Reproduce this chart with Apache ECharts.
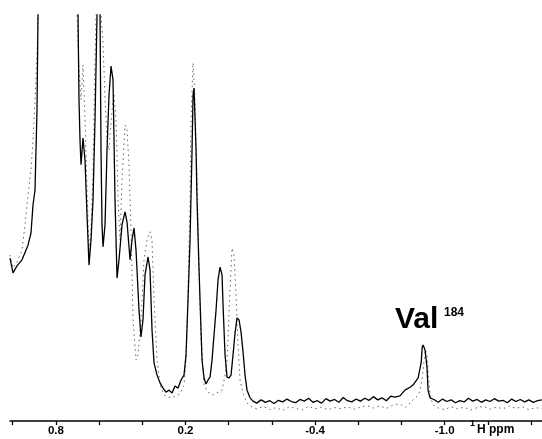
<!DOCTYPE html>
<html>
<head>
<meta charset="utf-8">
<script src="https://cdn.jsdelivr.net/npm/echarts@6/dist/echarts.min.js"></script>
<style>
  html, body { margin: 0; padding: 0; background: #fff; }
  #chart { width: 542px; height: 439px; }
</style>
</head>
<body>
<div id="chart"></div>
<script>
// chemical shift (ppm) and intensity (0..100 = top of frame)
var solidPpm = [1.0125, 0.9986, 0.9801, 0.9569, 0.9291, 0.9153, 0.9060, 0.8967, 0.8875, 0.8828,
  0.8736, 0.8273, 0.7810, 0.7347, 0.7069, 0.6976, 0.6930, 0.6884, 0.6837, 0.6745,
  0.6652, 0.6559, 0.6467, 0.6374, 0.6282, 0.6189, 0.6096, 0.6050, 0.5957, 0.5911,
  0.5865, 0.5819, 0.5726, 0.5633, 0.5541, 0.5448, 0.5356, 0.5263, 0.5170, 0.5078,
  0.4939, 0.4800, 0.4707, 0.4568, 0.4476, 0.4383, 0.4291, 0.4152, 0.4059, 0.3966,
  0.3874, 0.3735, 0.3642, 0.3550, 0.3457, 0.3318, 0.3179, 0.3040, 0.2901, 0.2762,
  0.2624, 0.2485, 0.2346, 0.2207, 0.2068, 0.1975, 0.1883, 0.1790, 0.1697, 0.1651,
  0.1605, 0.1512, 0.1466, 0.1373, 0.1281, 0.1234, 0.1142, 0.1049, 0.0957, 0.0864,
  0.0771, 0.0679, 0.0586, 0.0494, 0.0401, 0.0308, 0.0262, 0.0169, 0.0077, -0.0016,
  -0.0108, -0.0201, -0.0294, -0.0386, -0.0479, -0.0572, -0.0664, -0.0757, -0.0849, -0.0988,
  -0.1127, -0.13, -0.15, -0.17, -0.19, -0.21, -0.23, -0.25, -0.27, -0.29,
  -0.31, -0.33, -0.35, -0.37, -0.39, -0.41, -0.43, -0.45, -0.47, -0.49,
  -0.51, -0.53, -0.55, -0.57, -0.59, -0.61, -0.63, -0.65, -0.67, -0.69,
  -0.71, -0.73, -0.75, -0.77, -0.793, -0.816, -0.840, -0.854, -0.877, -0.891,
  -0.896, -0.900, -0.909, -0.918, -0.923, -0.932, -0.95, -0.97, -0.99, -1.01,
  -1.03, -1.05, -1.07, -1.09, -1.11, -1.13, -1.15, -1.17, -1.19, -1.21,
  -1.23, -1.25, -1.27, -1.29, -1.31, -1.33, -1.35, -1.37, -1.39, -1.41,
  -1.43, -1.45];
var solidInt = [40.1, 36.5, 38.2, 39.7, 43.3, 46.3, 53.2, 56.9, 76.6, 100,
  140, 180, 180, 160, 130, 100, 79.1, 69.2, 63.1, 69.7,
  64.3, 50.7, 38.4, 44.6, 54.4, 74.1, 100, 130, 100, 66.7,
  48.3, 42.9, 48.3, 66.7, 80.3, 87.4, 84.0, 54.4, 35.2, 39.7,
  48.3, 51.5, 49.0, 39.7, 44.6, 47.5, 42.1, 27.3, 20.7, 25.1,
  36.0, 40.4, 37.2, 22.4, 14.3, 11.3, 9.4, 8.1, 7.1, 7.6,
  6.9, 8.6, 8.1, 10.1, 11.3, 16.3, 29.8, 44.6, 66.7, 80.3,
  82.0, 66.7, 54.4, 37.2, 22.4, 15.0, 10.6, 9.1, 10.1, 10.8,
  15.0, 21.2, 27.3, 34.7, 37.9, 36.0, 28.6, 16.3, 10.8, 10.6,
  11.3, 16.3, 21.7, 25.4, 24.9, 21.9, 17.0, 11.3, 7.6, 5.7,
  4.9, 4.4, 5.2, 4.6, 5.0, 4.3, 5.1, 4.7, 5.4, 4.8,
  4.5, 5.3, 4.9, 5.6, 4.6, 5.0, 4.4, 5.5, 4.9, 5.3,
  4.6, 5.8, 5.0, 4.7, 5.4, 4.9, 5.6, 5.1, 6.0, 5.2,
  5.7, 5.0, 6.1, 5.9, 6.2, 7.6, 8.3, 8.9, 10.6, 14.3,
  18.2, 18.7, 17.5, 13.3, 7.6, 5.7, 5.3, 4.6, 5.4, 4.8,
  5.2, 4.5, 5.0, 4.7, 5.6, 4.9, 5.3, 4.6, 5.2, 4.8,
  5.5, 4.9, 5.1, 4.5, 5.4, 4.8, 5.3, 4.7, 5.2, 4.6,
  5.0, 5.2];

var dottedPpm = [1.0125, 0.9986, 0.9801, 0.9569, 0.9430, 0.9291, 0.9153, 0.9060, 0.8967, 0.8875,
  0.8828, 0.8736, 0.8273, 0.7810, 0.7347, 0.7069, 0.7023, 0.6930, 0.6837, 0.6745,
  0.6652, 0.6559, 0.6467, 0.6374, 0.6282, 0.6189, 0.6143, 0.6050, 0.5911, 0.5819,
  0.5726, 0.5633, 0.5541, 0.5402, 0.5309, 0.5217, 0.5124, 0.5031, 0.4939, 0.4800,
  0.4707, 0.4615, 0.4522, 0.4429, 0.4291, 0.4198, 0.4059, 0.3920, 0.3781, 0.3642,
  0.3550, 0.3457, 0.3318, 0.3179, 0.2994, 0.2809, 0.2624, 0.2438, 0.2253, 0.2068,
  0.1975, 0.1883, 0.1790, 0.1744, 0.1651, 0.1559, 0.1466, 0.1373, 0.1281, 0.1142,
  0.0957, 0.0725, 0.0494, 0.0308, 0.0169, 0.0077, 0.0030, -0.0062, -0.0155, -0.0247,
  -0.0340, -0.0433, -0.0525, -0.0664, -0.0849, -0.1081, -0.13, -0.16, -0.19, -0.22,
  -0.25, -0.28, -0.31, -0.34, -0.37, -0.40, -0.43, -0.46, -0.49, -0.52,
  -0.55, -0.58, -0.61, -0.64, -0.67, -0.70, -0.73, -0.76, -0.79, -0.82,
  -0.85, -0.88, -0.895, -0.905, -0.912, -0.918, -0.925, -0.932, -0.945, -0.97,
  -1.00, -1.03, -1.06, -1.09, -1.12, -1.15, -1.18, -1.21, -1.24, -1.27,
  -1.30, -1.33, -1.36, -1.39, -1.42, -1.45];
var dottedInt = [40.9, 37.7, 39.2, 42.1, 48.3, 55.7, 61.8, 69.2, 79.1, 90.1,
  100, 140, 180, 180, 160, 130, 100, 86.5, 79.1, 87.7,
  74.1, 56.9, 42.1, 47.0, 61.8, 88.9, 100, 130, 100, 93.3,
  79.1, 69.2, 66.7, 76.6, 80.3, 74.1, 54.4, 44.6, 59.4, 72.9,
  71.7, 63.1, 47.0, 24.9, 15.0, 16.3, 24.9, 39.7, 44.6, 46.6,
  44.6, 29.8, 15.0, 8.9, 6.4, 5.9, 5.7, 6.2, 6.7, 8.9,
  15.0, 32.3, 54.4, 74.1, 88.2, 79.1, 59.4, 37.2, 20.0, 8.9,
  7.1, 6.4, 7.1, 7.6, 11.3, 15.0, 21.2, 32.3, 42.6, 40.9,
  31.0, 18.7, 10.1, 6.9, 4.4, 3.4, 3.0, 3.6, 2.8, 3.3,
  2.6, 3.5, 3.1, 2.7, 3.6, 3.0, 3.4, 2.8, 3.3, 3.0,
  3.5, 2.9, 3.4, 3.8, 3.2, 3.7, 3.1, 3.9, 4.2, 3.4,
  5.0, 6.5, 10.0, 15.0, 17.5, 16.0, 11.0, 6.5, 4.0, 3.2,
  2.8, 3.5, 3.0, 3.4, 2.7, 3.3, 3.6, 2.9, 3.4, 3.0,
  3.7, 3.1, 3.5, 2.8, 3.3, 3.0];

var tickValues = [1.0, 0.8, 0.6, 0.4, 0.2, 0.0, -0.2, -0.4, -0.6, -0.8, -1.0, -1.2, -1.4];
var labelValues = [0.8, 0.2, -0.4, -1.0];

function zip(xs, ys) {
  var out = [];
  for (var i = 0; i < xs.length; i++) {
    out.push([xs[i], ys[i]]);
  }
  return out;
}

var chart = echarts.init(document.getElementById('chart'), null, { renderer: 'canvas' });

var option = {
  animation: false,
  backgroundColor: '#ffffff',
  grid: { left: 10, right: 0, top: 15, bottom: 18, containLabel: false },
  xAxis: {
    type: 'value',
    inverse: true,
    min: -1.4505,
    max: 1.0125,
    splitLine: { show: false },
    axisLine: { lineStyle: { color: '#000', width: 1.5 } },
    axisTick: {
      customValues: tickValues,
      length: 4,
      lineStyle: { color: '#000', width: 1.3 }
    },
    axisLabel: {
      customValues: labelValues,
      margin: 4,
      color: '#000',
      fontFamily: 'Liberation Sans, Arial, sans-serif',
      fontWeight: 'bold',
      fontSize: 11.5,
      formatter: function (v) { return v.toFixed(1); }
    }
  },
  yAxis: {
    type: 'value',
    min: 0,
    max: 100,
    show: false
  },
  series: [
    {
      name: 'dotted',
      type: 'line',
      data: zip(dottedPpm, dottedInt),
      showSymbol: false,
      clip: true,
      lineStyle: { color: '#666', width: 1, type: [1.5, 3.5] },
      z: 2
    },
    {
      name: 'solid',
      type: 'line',
      data: zip(solidPpm, solidInt),
      showSymbol: false,
      clip: true,
      lineStyle: { color: '#000', width: 1.3 },
      z: 3
    }
  ],
  graphic: [
    {
      type: 'text', left: 395, top: 305,
      style: { text: 'Val', font: 'bold 30px "Liberation Sans", Arial, sans-serif', fill: '#000' }
    },
    {
      type: 'text', left: 444, top: 307,
      style: { text: '184', font: 'bold 12px "Liberation Sans", Arial, sans-serif', fill: '#000' }
    },
    {
      type: 'text', left: 470, top: 419,
      style: { text: '1', font: 'bold 9px "Liberation Sans", Arial, sans-serif', fill: '#000' }
    },
    {
      type: 'text', left: 477, top: 424,
      style: { text: 'H ppm', font: 'bold 12px "Liberation Sans", Arial, sans-serif', fill: '#000' }
    }
  ]
};

chart.setOption(option);
</script>
</body>
</html>
